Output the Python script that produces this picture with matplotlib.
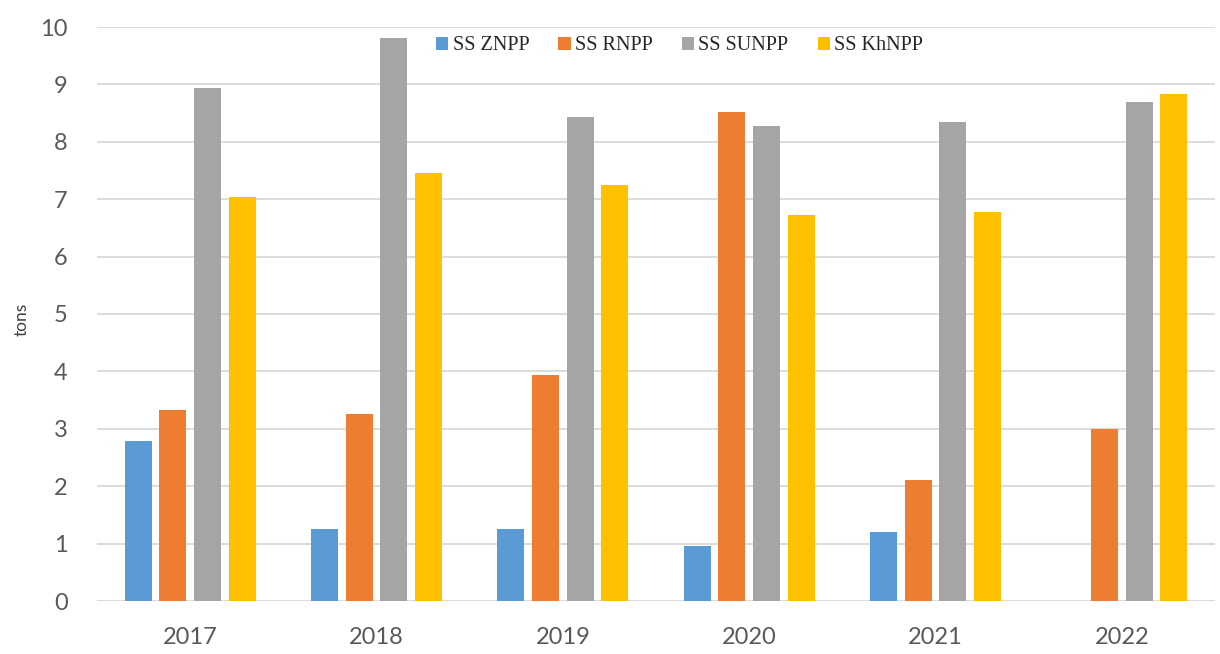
import matplotlib
matplotlib.use("Agg")
import matplotlib.pyplot as plt
import numpy as np

years = ["2017", "2018", "2019", "2020", "2021", "2022"]
series_names = ["SS ZNPP", "SS RNPP", "SS SUNPP", "SS KhNPP"]
znpp = [2.79, 1.25, 1.26, 0.96, 1.21, 0.0]
rnpp = [3.33, 3.26, 3.94, 8.52, 2.10, 2.99]
sunpp = [8.94, 9.81, 8.43, 8.27, 8.35, 8.70]
khnpp = [7.03, 7.45, 7.24, 6.73, 6.77, 8.84]
colors = ["#5B9BD5", "#ED7D31", "#A5A5A5", "#FFC000"]
y_ticks = list(range(0, 11))

fig = plt.figure(figsize=(12.2, 6.54), dpi=100)
ax = fig.add_axes([97 / 1220, 1 - 601 / 654, (1215 - 97) / 1220, (601 - 27) / 654])

x = np.arange(len(years))
slot = 0.1855
width = 0.145
for k, (vals, name, col) in enumerate(zip([znpp, rnpp, sunpp, khnpp], series_names, colors)):
    ax.bar(x + (k - 1.5) * slot, vals, width=width, color=col, label=name, zorder=3)

ax.set_xlim(-0.5, len(years) - 0.5)
ax.set_ylim(0, 10)
ax.set_yticks(y_ticks)
ax.set_xticks(x)
ax.set_xticklabels(years)
ax.grid(axis="y", color="#D9D9D9", linewidth=1.3, zorder=0)
ax.set_axisbelow(True)
for s in ax.spines.values():
    s.set_visible(False)
ax.tick_params(axis="both", length=0, labelsize=17, labelcolor="#595959")
ax.tick_params(axis="y", pad=21)
ax.tick_params(axis="x", pad=19)
for lab in ax.get_xticklabels() + ax.get_yticklabels():
    lab.set_family("Lato")

fig.text(22 / 1220, 1 - 319 / 654, "tons", rotation=90, ha="center", va="center",
         fontsize=12.5, color="#404040", family="Lato")

leg = ax.legend(loc="center left", bbox_to_anchor=((436 - 97) / 1118, (601 - 46) / 574),
                ncol=4, frameon=False, handlelength=0.62, handleheight=0.62,
                handletextpad=0.2, columnspacing=1.45, borderpad=0, borderaxespad=0,
                prop={"family": "Liberation Serif", "size": 14.5})
for t in leg.get_texts():
    t.set_color("#262626")

fig.savefig("out.png", dpi=100)
